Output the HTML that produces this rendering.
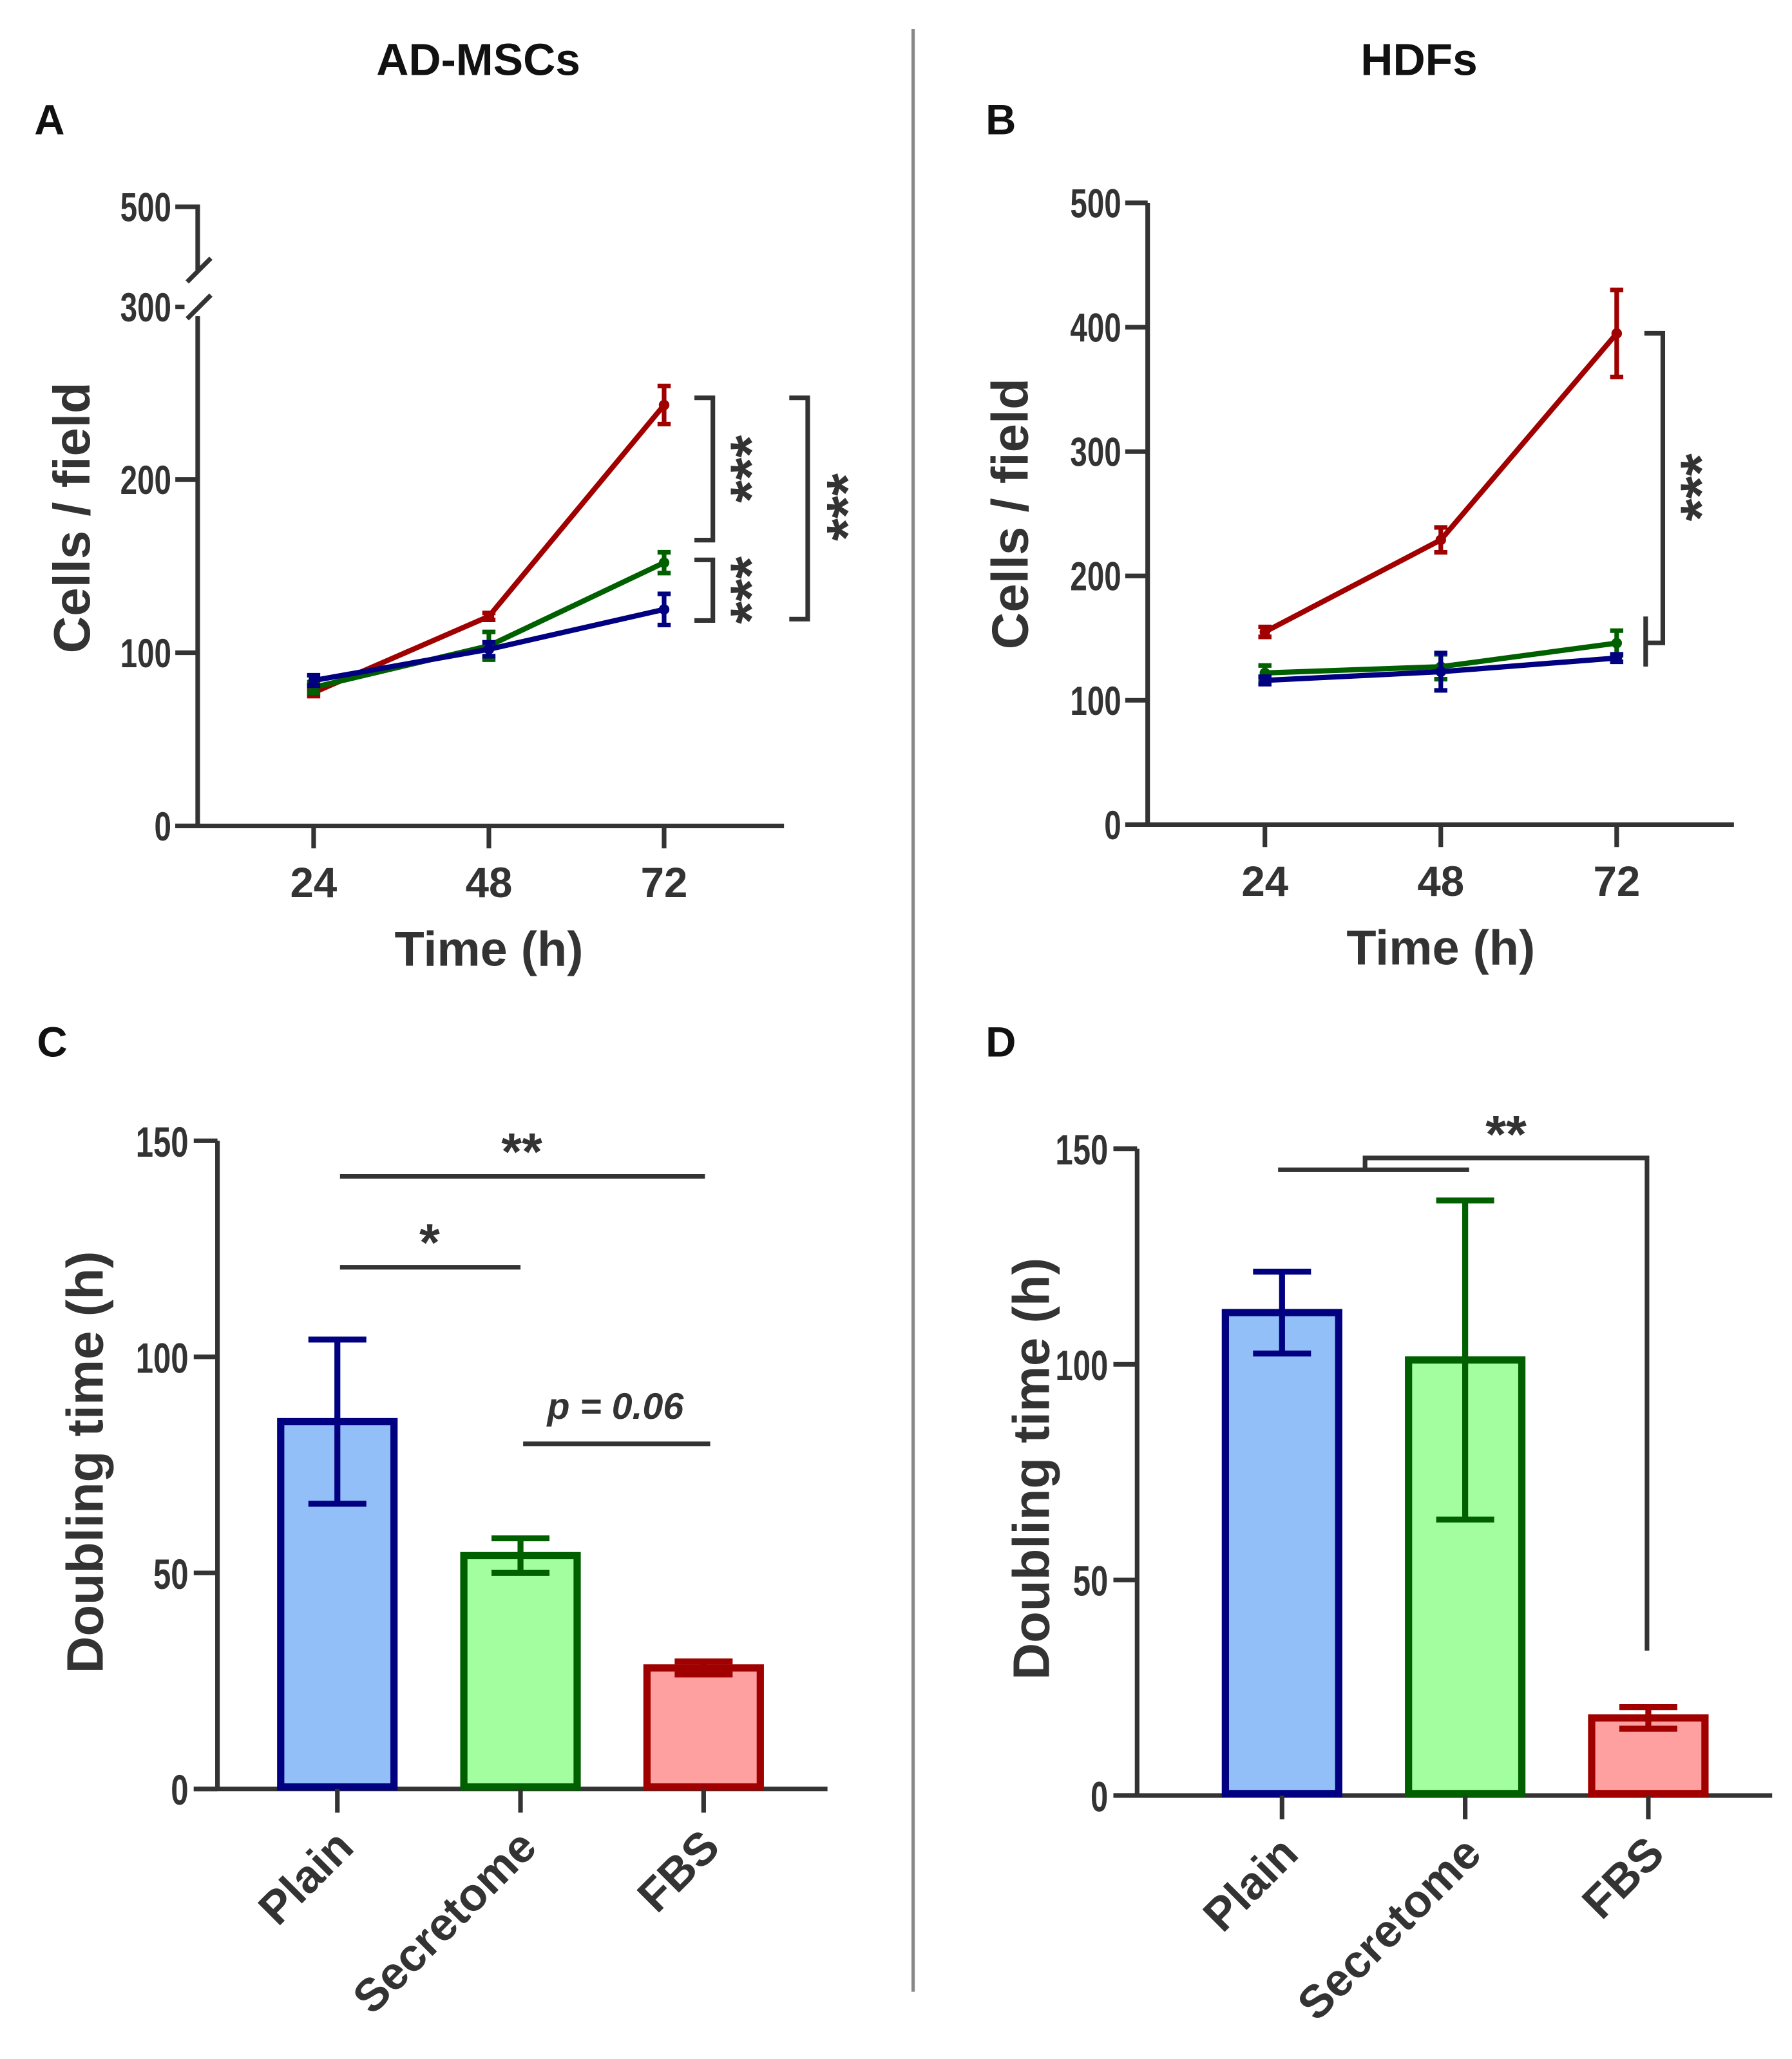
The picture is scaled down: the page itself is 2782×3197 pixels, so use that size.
<!DOCTYPE html>
<html><head><meta charset="utf-8"><style>
html,body{margin:0;padding:0;background:#fff}
svg{display:block}
text{font-family:"Liberation Sans",sans-serif;fill:#333}
</style></head><body>
<svg id="fig" width="2782" height="3197" viewBox="0 0 1360 1563" xmlns="http://www.w3.org/2000/svg">
<rect width="1360" height="1563" fill="#fff"/>
<line x1="693" y1="22" x2="693" y2="1512" stroke="#888" stroke-width="2.5"/>
<text x="363" y="57" font-size="34" font-weight="bold" text-anchor="middle" style="fill:#111">AD-MSCs</text>
<text x="1077" y="57" font-size="34" font-weight="bold" text-anchor="middle" style="fill:#111">HDFs</text>
<text x="26" y="102" font-size="32" font-weight="bold" style="fill:#111">A</text>
<text x="748" y="102" font-size="32" font-weight="bold" style="fill:#111">B</text>
<text x="28" y="802" font-size="32" font-weight="bold" style="fill:#111">C</text>
<text x="748" y="802" font-size="32" font-weight="bold" style="fill:#111">D</text>
<g id="g"></g>
</svg>
<script>
// ---- data ----
const timeCats = [24, 48, 72];
const aRed = [77, 121, 243], aRedErr = [2, 2, 11];
const aGreen = [80, 104, 152], aGreenErr = [3, 8, 6];
const aBlue = [84, 102, 125], aBlueErr = [3, 4, 9];
const bRed = [155, 229, 395], bRedErr = [4, 10, 35];
const bGreen = [122, 127, 146], bGreenErr = [6, 10, 10];
const bBlue = [116, 123, 134], bBlueErr = [3, 15, 3];
const barCats = ["Plain", "Secretome", "FBS"];
const cVals = [85, 54, 28], cErr = [19, 4, 1.5];
const dVals = [112, 101, 18], dErr = [9.5, 37, 2.5];
const aTicks = [0, 100, 200, 300];
const bTicks = [0, 100, 200, 300, 400, 500];
const barTicks = [0, 50, 100, 150];

const NS = "http://www.w3.org/2000/svg";
const G = document.getElementById('g');
function mk(tag, at, txt) { const e = document.createElementNS(NS, tag); for (const k in at) e.setAttribute(k, at[k]); if (txt !== undefined) e.textContent = txt; G.appendChild(e); return e; }
const AX = "#333";
const RED = "#a00000", GREEN = "#006000", BLUE = "#000080";

function lineFn(a, b, c, d) { return v => a + (v - c) * (b - a) / (d - c); }

function linePanel(p) {
  const y = lineFn(p.y0, p.y1, p.v0, p.v1);
  const x = i => p.xs + i * p.dx;
  let e;
  e = mk('line', { x1: p.ax, y1: p.axTop, x2: p.ax, y2: p.y0 + 1.5, stroke: AX, 'stroke-width': 3.5 });
   
  e = mk('line', { x1: p.ax - 17, y1: p.y0, x2: p.xEnd, y2: p.y0, stroke: AX, 'stroke-width': 3.5 });
   
  p.ticks.forEach(t => {
    const ty = p.tickPos ? p.tickPos(t) : y(t);
    e = mk('line', { x1: p.ax - 17, y1: ty, x2: p.ax, y2: ty, stroke: AX, 'stroke-width': 3.5 });
     
    e = mk('text', { x: p.ax - 20, y: ty + 11, 'font-size': 31, 'font-weight': 'bold', 'text-anchor': 'end', transform: `translate(${p.ax - 20} 0) scale(0.75 1) translate(${-(p.ax - 20)} 0)` }, t);
     
  });
  timeCats.forEach((c, i) => {
    e = mk('line', { x1: x(i), y1: p.y0, x2: x(i), y2: p.y0 + 17, stroke: AX, 'stroke-width': 3.5 });
     
    e = mk('text', { x: x(i), y: p.y0 + 54, 'font-size': 32, 'font-weight': 'bold', 'text-anchor': 'middle' }, c);
     
  });
  e = mk('text', { x: x(1), y: p.y0 + 106, 'font-size': 37, 'font-weight': 'bold', 'text-anchor': 'middle' }, 'Time (h)');
   
  e = mk('text', { x: 0, y: 0, 'font-size': 39, 'font-weight': 'bold', 'text-anchor': 'middle', transform: `translate(${p.titleX} ${p.titleY}) rotate(-90)` }, 'Cells / field');
   
  p.series.forEach(s => {
    const pts = s.v.map((v, i) => x(i) + ',' + y(v)).join(' ');
    e = mk('polyline', { points: pts, fill: 'none', stroke: s.c, 'stroke-width': 4 });
     
    s.v.forEach((v, i) => {
      const hi = y(v + s.e[i]), lo = y(v - s.e[i]);
      e = mk('path', { d: `M${x(i)},${hi}V${lo}M${x(i) - 5},${hi}H${x(i) + 5}M${x(i) - 5},${lo}H${x(i) + 5}`, stroke: s.c, 'stroke-width': 3.5, fill: 'none' });
       
      e = mk('circle', { cx: x(i), cy: y(v), r: 4, fill: s.c });
       
    });
  });
  return y;
}

// Panel A
const yA = linePanel({ id: 'panel-a', ax: 150, axTop: 240, y0: 627, y1: 364, v0: 0, v1: 200, xs: 238, dx: 133, xEnd: 595,
  ticks: aTicks, tickPos: t => t === 300 ? 233 : 627 - t * 1.315, titleX: 68, titleY: 393,
  series: [{ n: 'fbs', v: aRed, e: aRedErr, c: RED }, { n: 'secretome', v: aGreen, e: aGreenErr, c: GREEN }, { n: 'plain', v: aBlue, e: aBlueErr, c: BLUE }] });
let e;
e = mk('path', { d: 'M133,157H150V205', stroke: AX, 'stroke-width': 3.5, fill: 'none' });
 
e = mk('text', { x: 130, y: 168, 'font-size': 31, 'font-weight': 'bold', 'text-anchor': 'end', transform: 'translate(130 0) scale(0.75 1) translate(-130 0)' }, '500');
 
e = mk('rect', { x: 140, y: 206, width: 22, height: 30, fill: '#fff' });
 
e = mk('path', { d: 'M142,214L160,196M142,242L160,224', stroke: AX, 'stroke-width': 3.5, fill: 'none' });
 
// brackets A
e = mk('path', { d: 'M527,302H541V410H527', stroke: AX, 'stroke-width': 3.5, fill: 'none' });
 
e = mk('path', { d: 'M527,425H541V471H527', stroke: AX, 'stroke-width': 3.5, fill: 'none' });
 
e = mk('path', { d: 'M599,302H613V470H599', stroke: AX, 'stroke-width': 3.5, fill: 'none' });
 
[[585, 356], [585, 448], [658, 385]].forEach(s => {
  e = mk('text', { x: 0, y: 0, 'font-size': 44, 'font-weight': 'bold', 'text-anchor': 'middle', transform: `translate(${s[0]} ${s[1]}) rotate(-90)` }, '***');
   
});

// Panel B
linePanel({ id: 'panel-b', ax: 871, axTop: 154, y0: 626, y1: 154, v0: 0, v1: 500, xs: 960, dx: 133.5, xEnd: 1316,
  ticks: bTicks, titleX: 780, titleY: 390,
  series: [{ n: 'fbs', v: bRed, e: bRedErr, c: RED }, { n: 'secretome', v: bGreen, e: bGreenErr, c: GREEN }, { n: 'plain', v: bBlue, e: bBlueErr, c: BLUE }] });
e = mk('path', { d: 'M1248,253H1262V488H1250', stroke: AX, 'stroke-width': 3.5, fill: 'none' });
 
e = mk('path', { d: 'M1249,468V506', stroke: AX, 'stroke-width': 3.5, fill: 'none' });
 
e = mk('text', { x: 0, y: 0, 'font-size': 44, 'font-weight': 'bold', 'text-anchor': 'middle', transform: 'translate(1306 370) rotate(-90)' }, '***');
 

// Bar panels
const fills = ['#93bff8', '#a2fe9e', '#fea0a0'], strokes = [BLUE, GREEN, RED];
function barPanel(p) {
  const y = lineFn(p.y0, p.y1, 0, 150);
  const x = i => p.xs + i * p.dx;
  let e;
  e = mk('line', { x1: p.ax, y1: p.y1, x2: p.ax, y2: p.y0 + 1.5, stroke: AX, 'stroke-width': 3.5 });
   
  e = mk('line', { x1: p.ax - 18, y1: p.y0, x2: p.xEnd, y2: p.y0, stroke: AX, 'stroke-width': 3.5 });
   
  barTicks.forEach(t => {
    e = mk('line', { x1: p.ax - 18, y1: y(t), x2: p.ax, y2: y(t), stroke: AX, 'stroke-width': 3.5 });
     
    e = mk('text', { x: p.ax - 22, y: y(t) + 12, 'font-size': 32, 'font-weight': 'bold', 'text-anchor': 'end', transform: `translate(${p.ax - 22} 0) scale(0.75 1) translate(${-(p.ax - 22)} 0)` }, t);
     
  });
  e = mk('text', { x: 0, y: 0, 'font-size': 39, 'font-weight': 'bold', 'text-anchor': 'middle', transform: `translate(${p.titleX} ${p.titleY}) rotate(-90)` }, 'Doubling time (h)');
   
  barCats.forEach((c, i) => {
    const v = p.vals[i], er = p.err[i];
    e = mk('rect', { x: x(i) - 43, y: y(v), width: 86, height: p.y0 - y(v) - 1.5, fill: fills[i], stroke: strokes[i], 'stroke-width': 5.5 });
     
    const hi = y(v + er), lo = y(v - er);
    e = mk('path', { d: `M${x(i)},${hi}V${lo}M${x(i) - 22},${hi}H${x(i) + 22}M${x(i) - 22},${lo}H${x(i) + 22}`, stroke: strokes[i], 'stroke-width': 4.5, fill: 'none' });
     
    e = mk('line', { x1: x(i), y1: p.y0, x2: x(i), y2: p.y0 + 18, stroke: AX, 'stroke-width': 3.5 });
     
    e = mk('text', { x: 0, y: 0, 'font-size': 35, 'font-weight': 'bold', 'text-anchor': 'end', transform: `translate(${x(i) + 14} ${p.y0 + 46}) rotate(-45)` }, c);
     
  });
}
barPanel({ id: 'panel-c', ax: 165, y0: 1358, y1: 866, xs: 256, dx: 139, xEnd: 628, vals: cVals, err: cErr, titleX: 78, titleY: 1110 });
barPanel({ id: 'panel-d', ax: 863, y0: 1363, y1: 872, xs: 973, dx: 139, xEnd: 1345, vals: dVals, err: dErr, titleX: 796, titleY: 1115 });

// significance C
[['M258,893H535', 'panel-c-sig-line-plain-fbs'], ['M258,962H395', 'panel-c-sig-line-plain-secretome'], ['M397,1096H539', 'panel-c-sig-line-secretome-fbs']].forEach(s => {
  e = mk('path', { d: s[0], stroke: AX, 'stroke-width': 3.5, fill: 'none' });
   
});
e = mk('text', { x: 396, y: 888, 'font-size': 40, 'font-weight': 'bold', 'text-anchor': 'middle' }, '**');
 
e = mk('text', { x: 326, y: 957, 'font-size': 40, 'font-weight': 'bold', 'text-anchor': 'middle' }, '*');
 
e = mk('text', { x: 467, y: 1077, 'font-size': 28, 'font-weight': 'bold', 'font-style': 'italic', 'text-anchor': 'middle' }, 'p = 0.06');
 
// significance D
e = mk('path', { d: 'M970,888H1115M1036,888V879H1250V1253', stroke: AX, 'stroke-width': 3.5, fill: 'none' });
 
e = mk('text', { x: 1143, y: 875, 'font-size': 40, 'font-weight': 'bold', 'text-anchor': 'middle' }, '**');
 
</script>
</body></html>
